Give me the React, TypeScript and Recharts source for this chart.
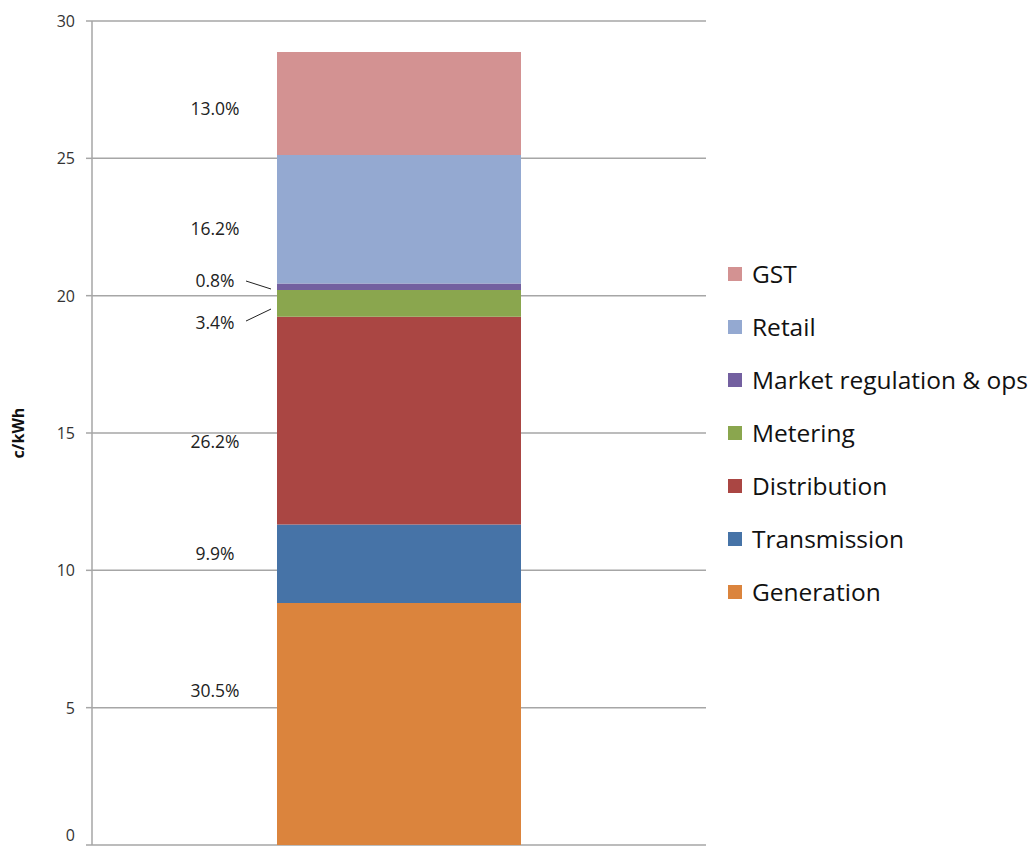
import React from "react";
import {
  BarChart,
  Bar,
  XAxis,
  YAxis,
  CartesianGrid,
  Legend,
  ReferenceDot,
} from "recharts";

// cost components, bottom to top (c/kWh)
const components = [
  "Generation",
  "Transmission",
  "Distribution",
  "Metering",
  "Market regulation & ops",
  "Retail",
  "GST",
];
const values = [8.81, 2.86, 7.56, 0.98, 0.23, 4.68, 3.75];
const shares = ["30.5%", "9.9%", "26.2%", "3.4%", "0.8%", "16.2%", "13.0%"];
// where each share label sits, in c/kWh
const labelLevels = [5.64, 10.63, 14.71, 19.04, 20.57, 22.46, 26.83];
const colors = ["#db843d", "#4673a7", "#aa4643", "#8aa64e", "#7360a0", "#94a9d1", "#d39292"];
const yTicks = [0, 5, 10, 15, 20, 25, 30];

const row: Record<string, string | number> = { name: "Total" };
components.forEach((c, i) => {
  row[c] = values[i];
});
const data = [row];

const FONT = "'Open Sans', 'Noto Sans', sans-serif";

function ShareLabel(props: any) {
  const { viewBox, text, leader } = props;
  const cx = viewBox.x + (viewBox.width || 0) / 2 - 184;
  const cy = viewBox.y + (viewBox.height || 0) / 2;
  return (
    <g>
      <text
        x={cx}
        y={cy}
        textAnchor="middle"
        dominantBaseline="central"
        fontSize={17.5}
        fill="#222"
        fontFamily={FONT}
      >
        {text}
      </text>
      {leader === "down" && <line x1={cx + 31} y1={cy + 1} x2={cx + 56} y2={cy + 9} stroke="#222" strokeWidth={1} />}
      {leader === "up" && <line x1={cx + 31} y1={cy - 1} x2={cx + 56} y2={cy - 13} stroke="#222" strokeWidth={1} />}
    </g>
  );
}

// y tick; the bottom one is nudged up so it stays inside the picture
function YTick(props: any) {
  const { x, y, payload } = props;
  const dy = payload.value === 0 ? -10 : 0;
  return (
    <text x={x} y={y + dy} textAnchor="end" dominantBaseline="central" fontSize={16} fill="#333" fontFamily={FONT}>
      {payload.value}
    </text>
  );
}

function LegendBox() {
  const items = components.map((c, i) => ({ c, color: colors[i] })).reverse();
  return (
    <div style={{ fontFamily: FONT, fontSize: 24.5, color: "#111" }}>
      {items.map((it) => (
        <div key={it.c} style={{ display: "flex", alignItems: "center", height: 53 }}>
          <span style={{ width: 14, height: 14, background: it.color, marginRight: 10, display: "inline-block", flex: "none" }} />
          <span style={{ whiteSpace: "nowrap" }}>{it.c}</span>
        </div>
      ))}
    </div>
  );
}

export default function App() {
  return (
    <div style={{ position: "absolute", left: 0, top: 0, background: "#fff" }}>
      <BarChart width={1036} height={850} data={data} margin={{ top: 21, right: 330, bottom: 5, left: 0 }} barSize={244}>
        <CartesianGrid vertical={false} stroke="#a6a6a6" strokeWidth={1.5} />
        <XAxis dataKey="name" tick={false} axisLine={{ stroke: "#a6a6a6", strokeWidth: 1.5 }} tickLine={false} height={0} />
        <YAxis
          domain={[0, 30]}
          ticks={yTicks}
          interval={0}
          width={92}
          tickSize={6}
          tickMargin={11}
          axisLine={{ stroke: "#a6a6a6", strokeWidth: 1.5 }}
          tickLine={{ stroke: "#a6a6a6", strokeWidth: 1.5 }}
          tick={<YTick />}
          label={{
            value: "c/kWh",
            angle: -90,
            position: "insideLeft",
            offset: 18,
            style: { fontSize: 16, fontWeight: "bold", fill: "#111", fontFamily: FONT, textAnchor: "middle" },
          }}
        />
        <Legend
          layout="vertical"
          align="center"
          verticalAlign="middle"
          content={<LegendBox />}
          wrapperStyle={{ left: 728, top: 247, width: 308 }}
        />
        {components.map((c, i) => (
          <Bar key={c} dataKey={c} stackId="a" fill={colors[i]} isAnimationActive={false} />
        ))}
        {shares.map((s, i) => (
          <ReferenceDot
            key={s + i}
            x="Total"
            y={labelLevels[i]}
            r={0}
            fill="none"
            stroke="none"
            label={<ShareLabel text={s} leader={i === 4 ? "down" : i === 3 ? "up" : undefined} />}
          />
        ))}
      </BarChart>
    </div>
  );
}
